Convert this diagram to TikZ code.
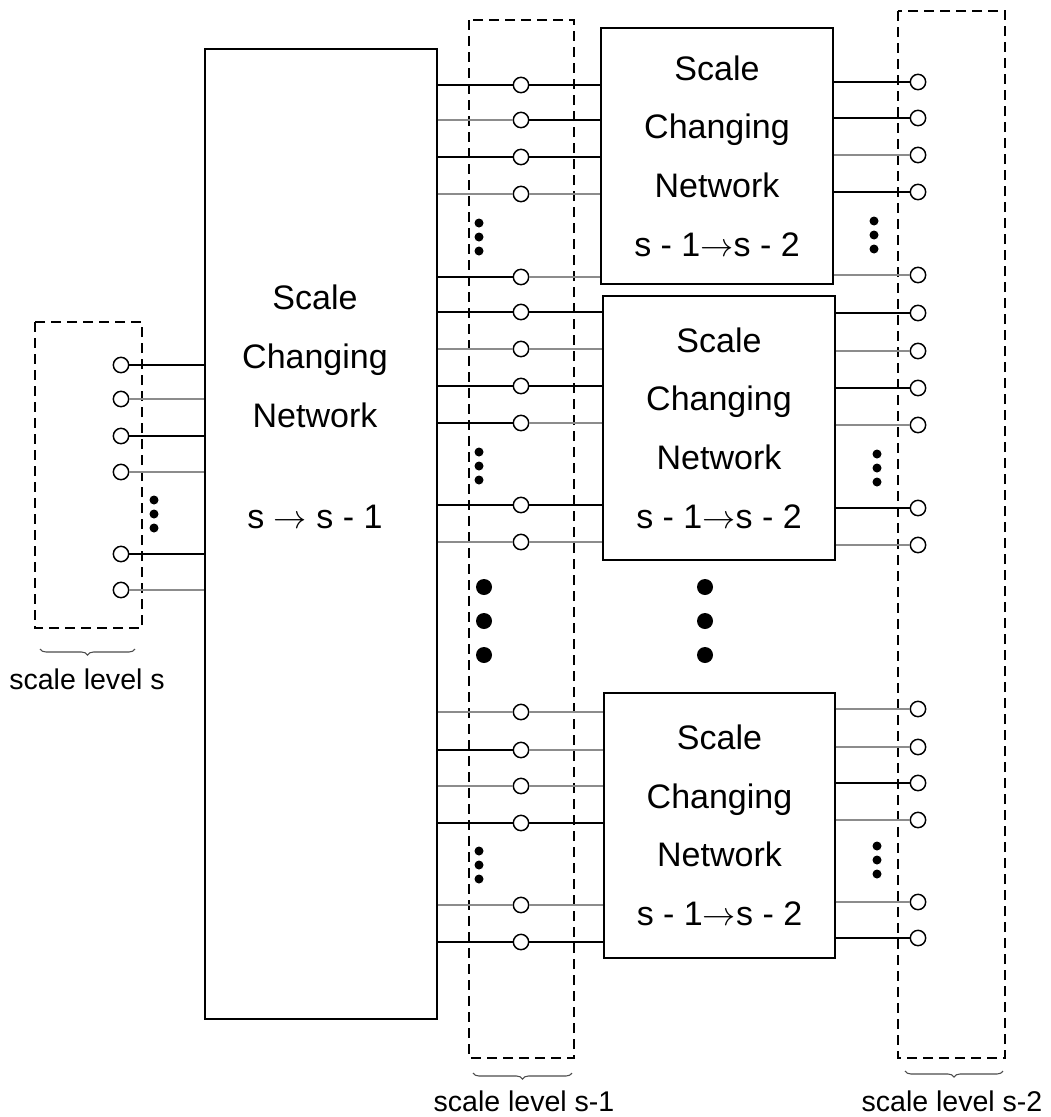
\documentclass[tikz,border=0pt]{standalone}
\usepackage{fontspec}
\setmainfont{Liberation Sans}
\usetikzlibrary{decorations.pathreplacing}
\colorlet{wiregray}{black!45}

\begin{document}
\begin{tikzpicture}[x=0.75pt, y=-0.75pt,
netbox/.style={draw, line width=1.3pt, align=center, inner sep=0pt, font=\fontsize{25.5}{44}\selectfont},
port/.style={draw, circle, fill=white, line width=1.1pt, minimum size=11.5pt, inner sep=0pt},
wire/.style={line width=1.3pt},
dk/.style={draw=black},
lt/.style={draw=wiregray},
levelbox/.style={draw, line width=1.2pt, dash pattern=on 7.5pt off 4.5pt},
lvlbrace/.style={decorate, decoration={brace, mirror, amplitude=4.5pt}, line width=0.8pt, draw=black!70},
lvltext/.style={font=\fontsize{21.4}{26}\selectfont}
]
\useasboundingbox (0,0) rectangle (1050,1117);

% Scale level boxes
\draw[levelbox] (35,322) rectangle (142,628);
\draw[levelbox] (469,20) rectangle (574,1058);
\draw[levelbox] (898,11) rectangle (1005,1058);

% Networks
\node[netbox, minimum width=174pt, minimum height=727.5pt] (main) at (321,534) {};
\node[font=\fontsize{25.5}{44}\selectfont, align=center] (mainlbl) at (315,407) {Scale\\Changing\\Network\\[32pt]s $\rightarrow$ s - 1};
\node[netbox, minimum width=174pt, minimum height=192pt] (netA) at (717,156) {Scale\\Changing\\Network\\s - 1$\rightarrow$s - 2};
\node[netbox, minimum width=174pt, minimum height=198pt] (netB) at (719,428) {Scale\\Changing\\Network\\s - 1$\rightarrow$s - 2};
\node[netbox, minimum width=173pt, minimum height=199pt] (netC) at (719.5,825.5) {Scale\\Changing\\Network\\s - 1$\rightarrow$s - 2};

% Level s
\foreach \y/\c [count=\i] in {365/dk,399/lt,436/dk,472/lt,554/dk,590/lt}{
  \node[port] (s\i) at (121,\y) {};
  \draw[wire,\c] (s\i) -- (s\i -| main.west);
}

% Level s-1
\foreach \y/\a/\b [count=\i] in {85/dk/dk,120/lt/dk,157/dk/dk,194/lt/lt,277/dk/lt}{
  \node[port] (pa\i) at (521,\y) {};
  \draw[wire,\a] (pa\i -| main.east) -- (pa\i);
  \draw[wire,\b] (pa\i) -- (pa\i -| netA.west);
}
\foreach \y/\a/\b [count=\i] in {312/dk/dk,349/lt/lt,386/dk/dk,423/dk/lt,505/dk/dk,542/lt/lt}{
  \node[port] (pb\i) at (521,\y) {};
  \draw[wire,\a] (pb\i -| main.east) -- (pb\i);
  \draw[wire,\b] (pb\i) -- (pb\i -| netB.west);
}
\foreach \y/\a/\b [count=\i] in {712/lt/lt,750/dk/lt,786/lt/lt,823/dk/dk,905/lt/lt,942/dk/dk}{
  \node[port] (pc\i) at (521,\y) {};
  \draw[wire,\a] (pc\i -| main.east) -- (pc\i);
  \draw[wire,\b] (pc\i) -- (pc\i -| netC.west);
}

% Level s-2
\foreach \y/\c [count=\i] in {82/dk,118/dk,155/lt,192/dk,275/lt}{
  \node[port] (qa\i) at (918,\y) {};
  \draw[wire,\c] (qa\i -| netA.east) -- (qa\i);
}
\foreach \y/\c [count=\i] in {313/dk,351/lt,388/dk,425/lt,508/dk,545/lt}{
  \node[port] (qb\i) at (918,\y) {};
  \draw[wire,\c] (qb\i -| netB.east) -- (qb\i);
}
\foreach \y/\c [count=\i] in {709/lt,747/lt,783/dk,820/lt,902/lt,938/dk}{
  \node[port] (qc\i) at (918,\y) {};
  \draw[wire,\c] (qc\i -| netC.east) -- (qc\i);
}

% Dots
\foreach \x/\y in {154/500,479/223,874/221,479/452,877/454,479/851,877/846}
  \foreach \d in {0,14,28}
    \fill (\x,\y+\d) circle (4.5);
\foreach \x in {484,705}
  \foreach \y in {587,621,655}
    \fill (\x,\y) circle (8);

% Braces
\draw[lvlbrace] (40,649) -- (135,649);
\draw[lvlbrace] (473,1073) -- (572,1073);
\draw[lvlbrace] (905,1071) -- (1003,1071);
\node[lvltext] (lvls) at (87,679) {scale level s};
\node[lvltext] (lvlsa) at (524,1101) {scale level s-1};
\node[lvltext] (lvlsb) at (952,1101) {scale level s-2};
\end{tikzpicture}
\end{document}
